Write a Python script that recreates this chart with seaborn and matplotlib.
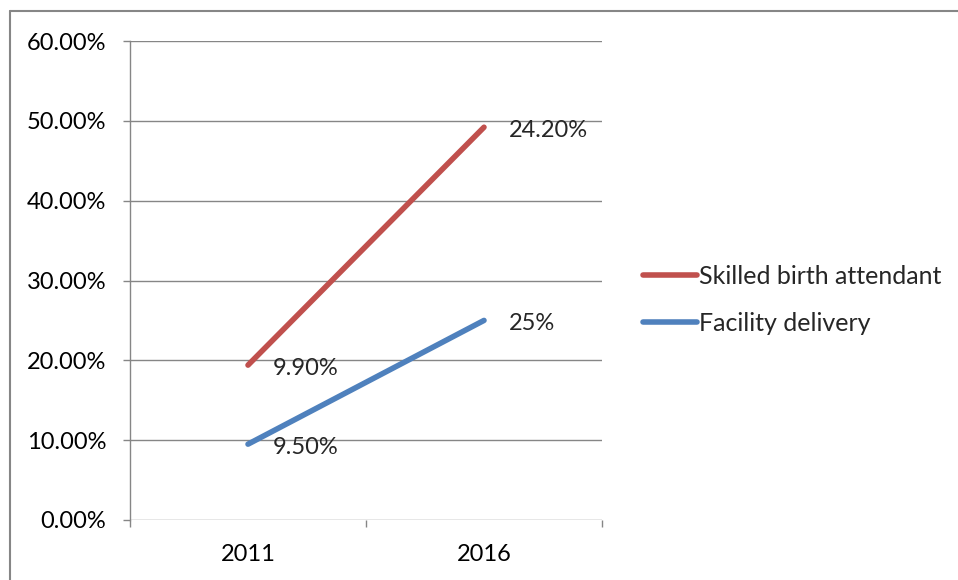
import matplotlib
matplotlib.use("Agg")
import matplotlib.pyplot as plt
from matplotlib.lines import Line2D
from matplotlib.ticker import FuncFormatter, FixedLocator
import seaborn as sns
import pandas as pd

# Survey years and indicator values (percent); lines are stacked
years = ["2011", "2016"]
facility_delivery = [9.5, 25.0]
skilled_birth_attendant = [9.9, 24.2]
facility_labels = ["9.50%", "25%"]
skilled_labels = ["9.90%", "24.20%"]
y_ticks = [0, 10, 20, 30, 40, 50, 60]

RED = "#C0504D"
BLUE = "#4F81BD"
GRID = "#868686"
FS = 17

sns.set_theme(style="white")
plt.rcParams["font.family"] = ["Lato", "DejaVu Sans"]

# Stacked line values: the upper series sits on top of the lower one
stacked_top = [f + s for f, s in zip(facility_delivery, skilled_birth_attendant)]
df = pd.DataFrame({
    "x": [0, 1, 0, 1],
    "value": stacked_top + facility_delivery,
    "series": ["Skilled birth attendant"] * 2 + ["Facility delivery"] * 2,
})

fig = plt.figure(figsize=(9.58, 5.80), dpi=100)
ax = fig.add_axes([130 / 958, 1 - 520 / 580, 472 / 958, 479 / 580])

sns.lineplot(data=df, x="x", y="value", hue="series",
             palette={"Skilled birth attendant": RED, "Facility delivery": BLUE},
             linewidth=4, ax=ax, legend=True)
for ln in ax.lines:
    ln.set_solid_capstyle("round")

ax.set_xlim(-0.5, 1.5)
ax.set_ylim(0, 60)
ax.set_xlabel("")
ax.set_ylabel("")

ax.yaxis.set_major_locator(FixedLocator(y_ticks))
ax.yaxis.set_major_formatter(FuncFormatter(lambda v, p: f"{v:.2f}%"))
ax.grid(axis="y", color=GRID, linewidth=1)
ax.set_axisbelow(True)
ax.tick_params(axis="y", which="major", length=5, width=1, color=GRID,
               direction="out", pad=12, labelsize=FS, labelcolor="black", left=True)

ax.set_xticks([0, 1])
ax.set_xticklabels(years)
ax.set_xticks([-0.5, 0.5, 1.5], minor=True)
ax.tick_params(axis="x", which="major", length=0, pad=17, labelsize=FS, labelcolor="black")
ax.tick_params(axis="x", which="minor", length=5, width=1, color=GRID,
               direction="out", bottom=True)

for side in ["top", "right", "bottom"]:
    ax.spines[side].set_visible(False)
ax.spines["left"].set_color(GRID)
ax.spines["left"].set_linewidth(1)

# Value labels beside each point
for i in range(2):
    ax.annotate(skilled_labels[i], (i, stacked_top[i]), xytext=(18, -2.5),
                textcoords="offset points", ha="left", va="center", fontsize=FS)
    ax.annotate(facility_labels[i], (i, facility_delivery[i]), xytext=(18, -2.5),
                textcoords="offset points", ha="left", va="center", fontsize=FS)

handles = [Line2D([0], [0], color=RED, linewidth=4, solid_capstyle="round"),
           Line2D([0], [0], color=BLUE, linewidth=4, solid_capstyle="round")]
ax.legend(handles, ["Skilled birth attendant", "Facility delivery"],
          loc="center left", bbox_to_anchor=(643 / 958, 1 - 300 / 580),
          bbox_transform=fig.transFigure, frameon=False, fontsize=18,
          handlelength=2.15, handletextpad=0.08, labelspacing=0.95,
          borderaxespad=0, borderpad=0)

# Outer chart frame
fig.add_artist(Line2D([10 / 958, 1], [1 - 11 / 580, 1 - 11 / 580],
                      transform=fig.transFigure, color=GRID, linewidth=1.5))
fig.add_artist(Line2D([10 / 958, 10 / 958], [0, 1 - 11 / 580],
                      transform=fig.transFigure, color=GRID, linewidth=1.5))

fig.savefig("out.png", dpi=100, facecolor="white")
